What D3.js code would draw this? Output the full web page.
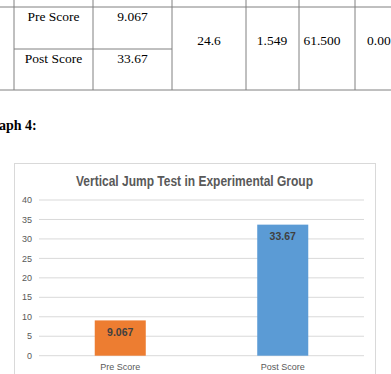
<!DOCTYPE html>
<html>
<head>
<meta charset="utf-8">
<script src="https://cdn.jsdelivr.net/npm/d3@7"></script>
<style>
  body { margin: 0; background: #fff; }
  svg { display: block; }
</style>
</head>
<body>
<svg id="page" width="391" height="374"></svg>
<script>
// table fragment above the graph
const tableGroups = ["Pre Score", "Post Score"]
const tableMeans = ["9.067", "33.67"]
const tableStats = ["24.6", "1.549", "61.500", "0.00"]

// chart data
const categories = ["Pre Score", "Post Score"]
const values = [9.067, 33.67]
const valueLabels = ["9.067", "33.67"]
const barColors = ["#ED7D31", "#5B9BD5"]
const yTicks = [0, 5, 10, 15, 20, 25, 30, 35, 40]
const title = "Vertical Jump Test in Experimental Group"

const svg = d3.select("#page")

// ---- TABLE ----
const colX = [14, 93, 172, 246, 299, 355]
const rowY = [7, 49, 90]
const tbl = svg.append("g")
const lineColor = "#808080"

// vertical lines
colX.forEach(x => {
  tbl.append("line").attr("x1", x).attr("x2", x).attr("y1", -5).attr("y2", rowY[2])
    .attr("stroke", lineColor).attr("stroke-width", 1)
})
// horizontal lines
tbl.append("line").attr("x1", 0).attr("x2", 391).attr("y1", rowY[0]).attr("y2", rowY[0]).attr("stroke", lineColor)
tbl.append("line").attr("x1", colX[0]).attr("x2", colX[2]).attr("y1", rowY[1]).attr("y2", rowY[1]).attr("stroke", lineColor)
tbl.append("line").attr("x1", 0).attr("x2", 391).attr("y1", rowY[2]).attr("y2", rowY[2]).attr("stroke", lineColor)

const serif = "'Liberation Serif', 'Times New Roman', serif"
tableGroups.forEach((g, i) => {
  const ty = i === 0 ? 21 : 63
  tbl.append("text").attr("x", (colX[0] + colX[1]) / 2).attr("y", ty).attr("text-anchor", "middle")
    .style("font-family", serif).style("font-size", "13.5px").attr("fill", "#000").text(g)
  tbl.append("text").attr("x", (colX[1] + colX[2]) / 2).attr("y", ty).attr("text-anchor", "middle")
    .style("font-family", serif).style("font-size", "13.5px").attr("fill", "#000").text(tableMeans[i])
})
const statX = [209, 272, 322, 367]
tableStats.forEach((s, i) => {
  tbl.append("text").attr("x", statX[i]).attr("y", 45).attr("text-anchor", i === 3 ? "start" : "middle")
    .style("font-family", serif).style("font-size", "13.5px").attr("fill", "#000").text(s)
})

svg.append("text").attr("x", -1).attr("y", 130)
  .style("font-family", serif).style("font-size", "14px").style("font-weight", "bold")
  .text("aph 4:")

// ---- CHART ----
svg.append("rect").attr("x", 14.5).attr("y", 163.5).attr("width", 361).attr("height", 220)
  .attr("fill", "#fff").attr("stroke", "#d9d9d9")

const sans = "'Liberation Sans', Arial, sans-serif"
const plot = {left: 39, right: 364, top: 200, bottom: 355.7}

svg.append("text").attr("x", 76).attr("y", 185.5)
  .attr("textLength", 237).attr("lengthAdjust", "spacingAndGlyphs")
  .style("font-family", sans).style("font-size", "14.5px").style("font-weight", "bold")
  .attr("fill", "#595959").text(title)

const y = d3.scaleLinear().domain([0, 40]).range([plot.bottom, plot.top])
const x = d3.scaleBand().domain(categories).range([plot.left, plot.right])
const barW = x.bandwidth() * 0.314

// gridlines
svg.append("g").selectAll("line").data(yTicks).enter().append("line")
  .attr("x1", plot.left).attr("x2", plot.right)
  .attr("y1", d => y(d)).attr("y2", d => y(d))
  .attr("stroke", "#d9d9d9").attr("stroke-width", 1)

// y tick labels
svg.append("g").selectAll("text").data(yTicks).enter().append("text")
  .attr("x", 32).attr("y", d => y(d)).attr("dy", "0.35em").attr("text-anchor", "end")
  .style("font-family", sans).style("font-size", "9px").attr("fill", "#595959")
  .text(d => d)

// bars
svg.append("g").selectAll("rect").data(values).enter().append("rect")
  .attr("x", (d, i) => x(categories[i]) + x.bandwidth() / 2 - barW / 2)
  .attr("y", d => y(d))
  .attr("width", barW)
  .attr("height", d => y(0) - y(d))
  .attr("fill", (d, i) => barColors[i])

// value labels inside top of bars
svg.append("g").selectAll("text").data(values).enter().append("text")
  .attr("x", (d, i) => x(categories[i]) + x.bandwidth() / 2)
  .attr("y", d => y(d) + 12)
  .attr("dy", "0.35em").attr("text-anchor", "middle")
  .style("font-family", sans).style("font-size", "10.5px").style("font-weight", "bold")
  .attr("fill", "#404040")
  .text((d, i) => valueLabels[i])

// category labels
svg.append("g").selectAll("text").data(categories).enter().append("text")
  .attr("x", d => x(d) + x.bandwidth() / 2).attr("y", 367).attr("dy", "0.35em")
  .attr("text-anchor", "middle")
  .style("font-family", sans).style("font-size", "9px").attr("fill", "#595959")
  .text(d => d)
</script>
</body>
</html>
